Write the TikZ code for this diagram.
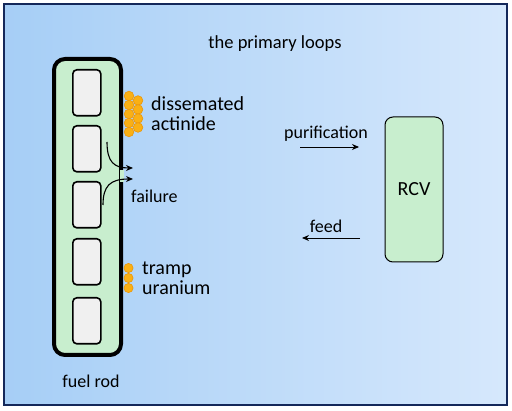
\documentclass[tikz,border=0pt]{standalone}
\usepackage{fontspec}
\setmainfont{Carlito}
\usetikzlibrary{arrows.meta}
\definecolor{bgA}{RGB}{166,206,246}
\definecolor{bgB}{RGB}{214,232,252}
\definecolor{frame}{RGB}{20,40,90}
\definecolor{rodgreen}{RGB}{200,238,206}
\definecolor{pellet}{RGB}{240,240,240}
\definecolor{ball}{RGB}{250,176,20}
\definecolor{ballrim}{RGB}{235,150,10}
\tikzset{
  lbl/.style={font=\fontsize{18}{20}\selectfont, inner sep=0pt},
  biglbl/.style={font=\fontsize{20}{20}\selectfont, inner sep=0pt},
  pelletbox/.style={draw=black, line width=1.6pt, fill=pellet, rounded corners=4pt},
  actball/.style={fill=ball, draw=ballrim, line width=0.6pt},
  flow/.style={-{Stealth[length=7pt,width=6pt]}, line width=1.1pt},
}
\begin{document}
\begin{tikzpicture}[x=1pt,y=-1pt]
\useasboundingbox (0,0) rectangle (512,411);
\fill[white] (0,0) rectangle (512,411);
\shade[shading angle=80, left color=bgA, right color=bgB] (4,4) rectangle (507,405);
\draw[frame, line width=1.6pt] (4,4) rectangle (507,405);

\node[lbl, font=\fontsize{18.5}{20}\selectfont] (title) at (275,44) {the primary loops};

% fuel rod
\draw[line width=4pt, fill=rodgreen, rounded corners=11pt] (54,59) rectangle (121,355);
\fill[rodgreen] (120,170) rectangle (124,182);
\foreach \i/\y in {1/69,2/125,3/181,4/238,5/297}{
  \node[pelletbox, minimum width=28pt, minimum height=46pt, inner sep=0pt, anchor=north west] (p\i) at (72,\y) {};
}
\node[lbl] (rodlbl) at (91,381) {fuel rod};

% failure arrows
\coordinate (f1s) at (107,142);
\coordinate (f1e) at (133,168);
\coordinate (f2s) at (103,205);
\coordinate (f2e) at (133,179);
\draw[flow] (f1s) .. controls (107,162) and (114,168) .. (f1e);
\draw[flow] (f2s) .. controls (103,186) and (110,179) .. (f2e);
\node[lbl, anchor=west] (failure) at (131,196) {failure};

% dissemated actinide balls
\foreach \y in {96,105,114,123,132}{\draw[actball] (129,\y) circle (4.8pt);}
\foreach \y in {100.5,109.5,118.5,127.5}{\draw[actball] (138,\y) circle (4.8pt);}
\node[biglbl, anchor=west, align=left] (diss) at (151,114) {dissemated\\actinide};

% tramp uranium balls
\foreach \y in {268,278,288}{\draw[actball] (128.5,\y) circle (4.6pt);}
\node[biglbl, anchor=west, align=left] (tramp) at (142,278) {tramp\\uranium};

% RCV
\node[draw=black, line width=1pt, fill=rodgreen, rounded corners=8pt, minimum width=58pt, minimum height=145pt] (rcv) at (414,189.5) {};
\node[biglbl] (rcvlbl) at (rcv.center) {RCV};

% purification / feed
\node[lbl] (pur) at (326,134) {purification};
\coordinate (pa) at (300,147);
\coordinate (pb) at (359,147);
\draw[flow, line width=0.9pt] (pa) -- (pb);
\node[lbl] (feed) at (326,226) {feed};
\coordinate (fa) at (360,238);
\coordinate (fb) at (302,238);
\draw[flow, line width=0.9pt] (fa) -- (fb);
\end{tikzpicture}
\end{document}
